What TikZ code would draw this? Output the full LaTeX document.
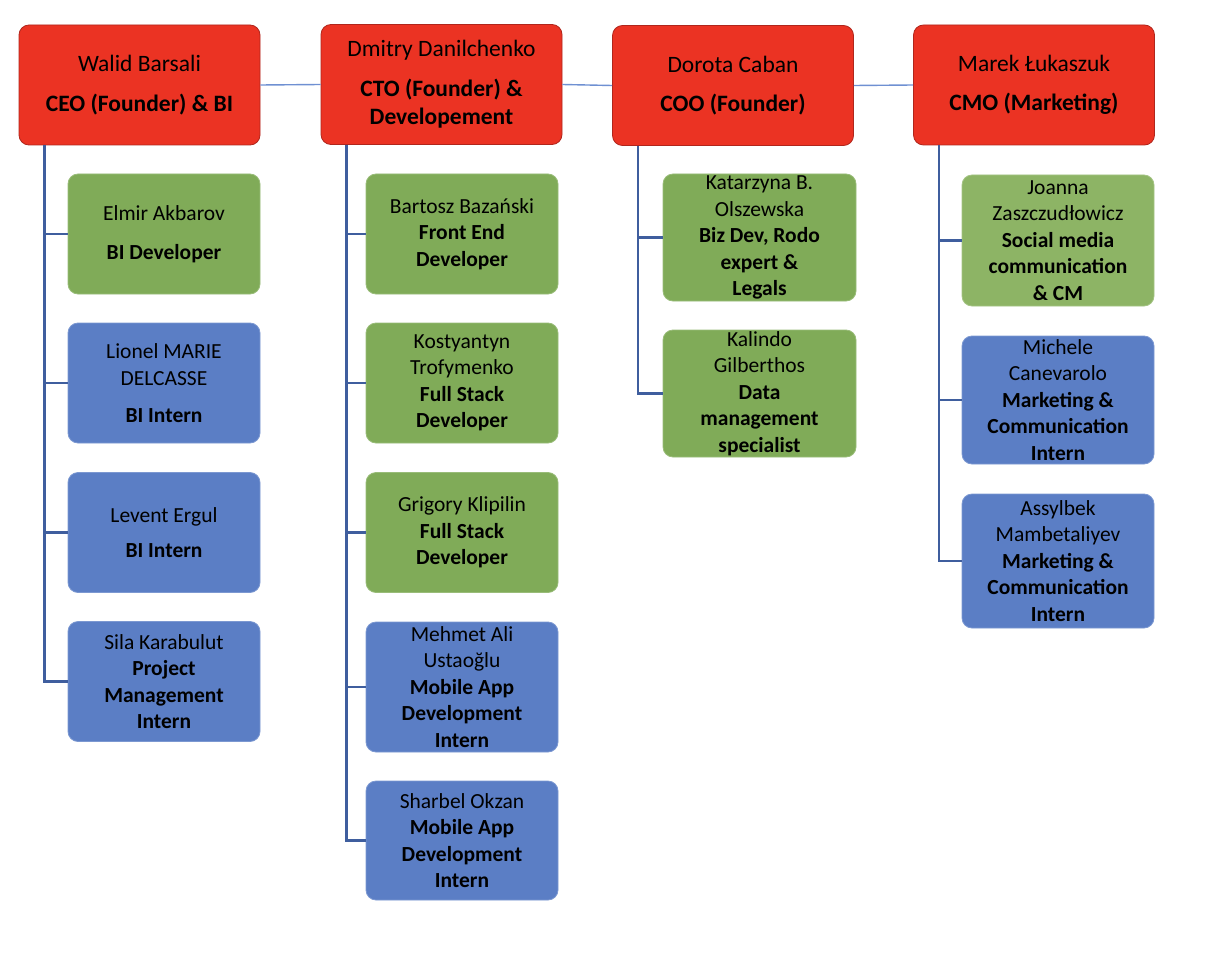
\documentclass[tikz,border=0pt]{standalone}
\usepackage{fontspec}
\setmainfont{Carlito}

\definecolor{headred}{HTML}{EB3323}
\definecolor{headedge}{HTML}{B0261C}
\definecolor{devgreen}{HTML}{80AB58}
\definecolor{devgreenlight}{HTML}{8DB465}
\definecolor{internblue}{HTML}{5B7EC5}
\definecolor{spineblue}{HTML}{3F5E9E}
\definecolor{linkblue}{HTML}{6F90D2}

\begin{document}
\begin{tikzpicture}[x=1pt,y=-1pt,
  headbox/.style={rectangle, rounded corners=10pt, fill=headred, draw=headedge, line width=0.8pt,
    minimum width=241pt, minimum height=120pt, inner sep=0pt, align=center,
    font=\fontsize{23.5}{28.5}\selectfont},
  staffbox/.style={rectangle, rounded corners=10pt, line width=0.8pt,
    minimum width=192pt, minimum height=120pt, inner sep=0pt, align=center,
    font=\fontsize{21.5}{26.5}\selectfont},
  devbox/.style={staffbox, fill=devgreen, draw=devgreen!80!white},
  internbox/.style={staffbox, fill=internblue, draw=internblue!80!white},
  spine/.style={spineblue, line width=2.5pt},
  link/.style={linkblue, line width=1.4pt}]

  \useasboundingbox (0,0) rectangle (1206,952);

  % Founders and heads
  \node[headbox] (ceo) at (139.5,85) {Walid Barsali\\[11pt]\textbf{CEO (Founder) \& BI}};
  \node[headbox] (cto) at (441.5,84.5) {Dmitry Danilchenko\\[11pt]\textbf{CTO (Founder) \&}\\\textbf{Developement}};
  \node[headbox] (coo) at (733,85.5) {Dorota Caban\\[11pt]\textbf{COO (Founder)}};
  \node[headbox] (cmo) at (1034,85) {Marek Łukaszuk\\[11pt]\textbf{CMO (Marketing)}};

  \draw[link] (ceo.east) -- (cto.west);
  \draw[link] (cto.east) -- (coo.west);
  \draw[link] (coo.east) -- (cmo.west);

  % CEO team
  \node[devbox] (elmir) at (164,234) {Elmir Akbarov\\[12.5pt]\textbf{BI Developer}};
  \node[internbox] (lionel) at (164,383) {Lionel MARIE\\DELCASSE\\[10.5pt]\textbf{BI Intern}};
  \node[internbox] (levent) at (164,532.5) {Levent Ergul\\[8.5pt]\textbf{BI Intern}};
  \node[internbox] (sila) at (164,681.5) {Sila Karabulut\\\textbf{Project}\\\textbf{Management}\\\textbf{Intern}};

  % CTO team
  \node[devbox] (bartosz) at (462,234) {Bartosz Bazański\\\textbf{Front End}\\\textbf{Developer}};
  \node[devbox] (kostya) at (462,383) {Kostyantyn\\Trofymenko\\\textbf{Full Stack}\\\textbf{Developer}};
  \node[devbox] (grigory) at (462,532.5) {Grigory Klipilin\\\textbf{Full Stack}\\\textbf{Developer}};
  \node[internbox, minimum height=130pt] (mehmet) at (462,687) {Mehmet Ali\\Ustaoğlu\\\textbf{Mobile App}\\\textbf{Development}\\\textbf{Intern}};
  \node[internbox, minimum height=119pt] (sharbel) at (462,840.5) {Sharbel Okzan\\\textbf{Mobile App}\\\textbf{Development}\\\textbf{Intern}};

  % COO team
  \node[devbox, minimum width=193pt, minimum height=127pt] (katarzyna) at (759.5,237.5) {Katarzyna B.\\Olszewska\\\textbf{Biz Dev, Rodo}\\\textbf{expert \&}\\\textbf{Legals}};
  \node[devbox, minimum width=193pt, minimum height=127pt] (kalindo) at (759.5,393.5) {Kalindo\\Gilberthos\\\textbf{Data}\\\textbf{management}\\\textbf{specialist}};

  % CMO team
  \node[devbox, fill=devgreenlight, draw=devgreenlight!80!white, minimum height=131pt] (joanna) at (1058,240.5) {Joanna\\Zaszczudłowicz\\\textbf{Social media}\\\textbf{communication}\\\textbf{\& CM}};
  \node[internbox, minimum height=128pt] (michele) at (1058,400) {Michele\\Canevarolo\\\textbf{Marketing \&}\\\textbf{Communication}\\\textbf{Intern}};
  \node[internbox, minimum height=134pt] (assylbek) at (1058,561) {Assylbek\\Mambetaliyev\\\textbf{Marketing \&}\\\textbf{Communication}\\\textbf{Intern}};

  % Reporting lines
  \foreach \child in {elmir,lionel,levent,sila}
    \draw[spine] ([xshift=26pt]ceo.south west) |- (\child.west);
  \foreach \child in {bartosz,kostya,grigory,mehmet,sharbel}
    \draw[spine] ([xshift=26pt]cto.south west) |- (\child.west);
  \foreach \child in {katarzyna,kalindo}
    \draw[spine] ([xshift=26pt]coo.south west) |- (\child.west);
  \foreach \child in {joanna,michele,assylbek}
    \draw[spine] ([xshift=26pt]cmo.south west) |- (\child.west);
\end{tikzpicture}
\end{document}
